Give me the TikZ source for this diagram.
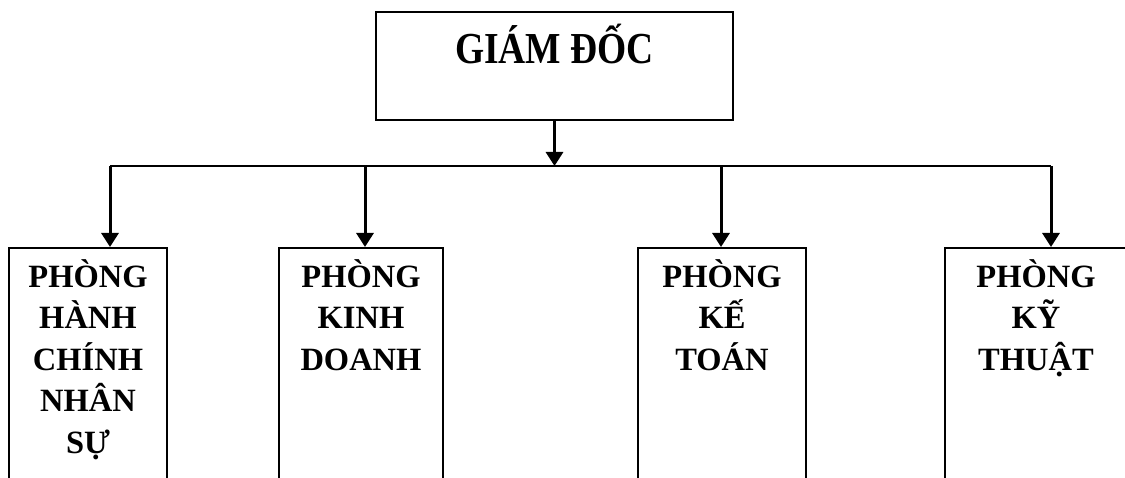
\documentclass[tikz,border=0pt]{standalone}
\usepackage{fontspec}
\setmainfont{Liberation Serif}
\usetikzlibrary{arrows.meta,positioning}

\tikzset{
  box/.style={draw, line width=2pt, inner sep=0pt},
  dept/.style={box, anchor=north, minimum height=300pt},
  depttext/.style={font=\bfseries\fontsize{32.5}{41.5}\selectfont, align=center, anchor=north, inner sep=0pt, yshift=-12pt},
  titletext/.style={font=\bfseries\fontsize{37.5}{40}\selectfont, anchor=base, inner sep=0pt, yshift=-53pt},
  arr/.style={-{Triangle[width=17pt,length=14pt]}, line width=3pt},
}

\begin{document}
\begin{tikzpicture}[x=1pt,y=-1pt]
  \clip (0,0) rectangle (1125,478);

  \node[box, minimum width=357pt, minimum height=108pt,
        label={[titletext]north:\scalebox{1}[1.18]{GIÁM ĐỐC}}] (gd) at (554.5,66) {};

  %phong ban
  \node[dept, minimum width=158pt, label={[depttext]north:PHÒNG\\HÀNH\\CHÍNH\\NHÂN\\SỰ}] (hc) at (88,247) {};
  \node[dept, minimum width=164pt, label={[depttext]north:PHÒNG\\KINH\\DOANH}] (kd) at (361,247) {};
  \node[dept, minimum width=168pt, label={[depttext]north:PHÒNG\\KẾ\\TOÁN}] (kt) at (722,247) {};
  \node[dept, minimum width=182pt, label={[depttext]north:PHÒNG\\KỸ\\THUẬT}] (kth) at (1036,247) {};

  %duong ngang
  \coordinate (b1) at (110,166);
  \coordinate (b2) at (365,166);
  \coordinate (b3) at (721,166);
  \coordinate (b4) at (1051,166);
  \draw[line width=2.4pt] (b1) -- (b4);

  %mui ten
  \draw[arr] (gd.south) -- (gd.south |- b1);
  \foreach \b/\d in {b1/hc, b2/kd, b3/kt, b4/kth}
    \draw[arr] (\b) -- (\b |- \d.north);
\end{tikzpicture}
\end{document}
